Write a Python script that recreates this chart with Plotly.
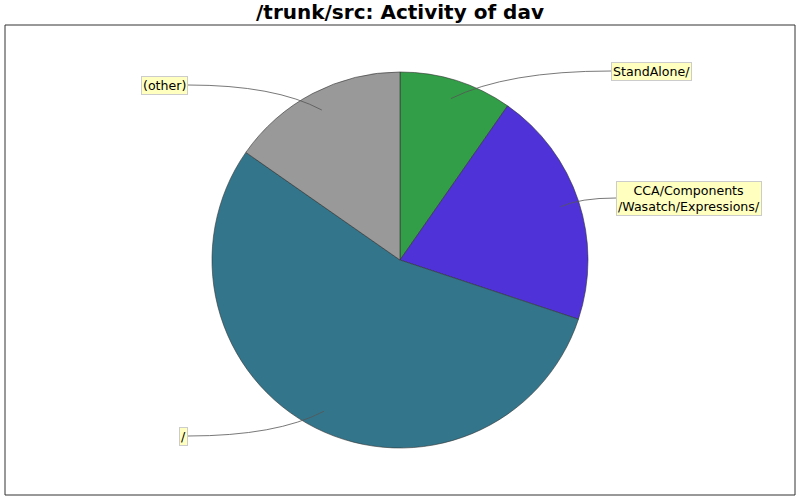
import math
import plotly.graph_objects as go

# slices, clockwise from 12 o'clock
labels = ['StandAlone/', 'CCA/Components<br>/Wasatch/Expressions/', '/', '(other)']
values = [9.7, 20.4, 54.6, 15.3]
colors = ['#339e48', '#4f33d9', '#33768c', '#999999']

# where the label boxes sit (pixel coords) and which side they hang off
label_x = [611, 616, 188, 188]
label_y = [71, 198, 436, 85]
label_side = ['left', 'left', 'right', 'right']

W, H = 800, 500
cx, cy, R = 400, 260, 188

fig = go.Figure()
fig.add_trace(go.Pie(labels=labels,
                     values=values,
                     sort=False,
                     direction='clockwise',
                     rotation=0,
                     marker=dict(colors=colors, line=dict(color='#333333', width=0.6)),
                     textinfo='none',
                     hoverinfo='label+percent',
                     showlegend=False,
                     domain=dict(x=[(cx - R) / W, (cx + R) / W],
                                 y=[(H - cy - R) / H, (H - cy + R) / H])))

# curved connectors from inside each slice to its label
shapes = [dict(type='rect', xref='x', yref='y', x0=5, y0=25, x1=795, y1=495,
               line=dict(color='#333333', width=1), layer='below')]
total = sum(values)
cum = 0
for i, v in enumerate(values):
    mid = (cum + v / 2) / total * 2 * math.pi
    cum += v
    ax = cx + 0.9 * R * math.sin(mid)
    ay = cy - 0.9 * R * math.cos(mid)
    lx, ly = label_x[i], label_y[i]
    qx = ax + (lx - ax) * 0.35
    shapes.append(dict(type='path', xref='x', yref='y',
                       path=f'M {lx},{ly} Q {qx},{ly} {ax:.1f},{ay:.1f}',
                       line=dict(color='#555555', width=0.8)))

annotations = []
for i, lab in enumerate(labels):
    annotations.append(dict(x=label_x[i], y=label_y[i], xref='x', yref='y',
                            text=lab, showarrow=False, xanchor=label_side[i],
                            yanchor='middle', align='center',
                            font=dict(family='DejaVu Sans', size=12.6, color='#000000'),
                            bgcolor='#ffffc0', bordercolor='#cccccc',
                            borderwidth=1, borderpad=1))

fig.update_layout(width=W, height=H,
                  margin=dict(l=0, r=0, t=0, b=0),
                  paper_bgcolor='white', plot_bgcolor='white',
                  title=dict(text='<b>/trunk/src: Activity of dav</b>', x=0.5, y=0.976,
                             xanchor='center', yanchor='middle',
                             font=dict(family='DejaVu Sans', size=20, color='#000000')),
                  xaxis=dict(range=[0, W], visible=False, fixedrange=True),
                  yaxis=dict(range=[H, 0], visible=False, fixedrange=True),
                  shapes=shapes,
                  annotations=annotations)

# drop the browser's default body margin so the figure fills the window
fig.write_html('out.html', config={'displayModeBar': False},
               post_script="document.body.style.margin='0';")
